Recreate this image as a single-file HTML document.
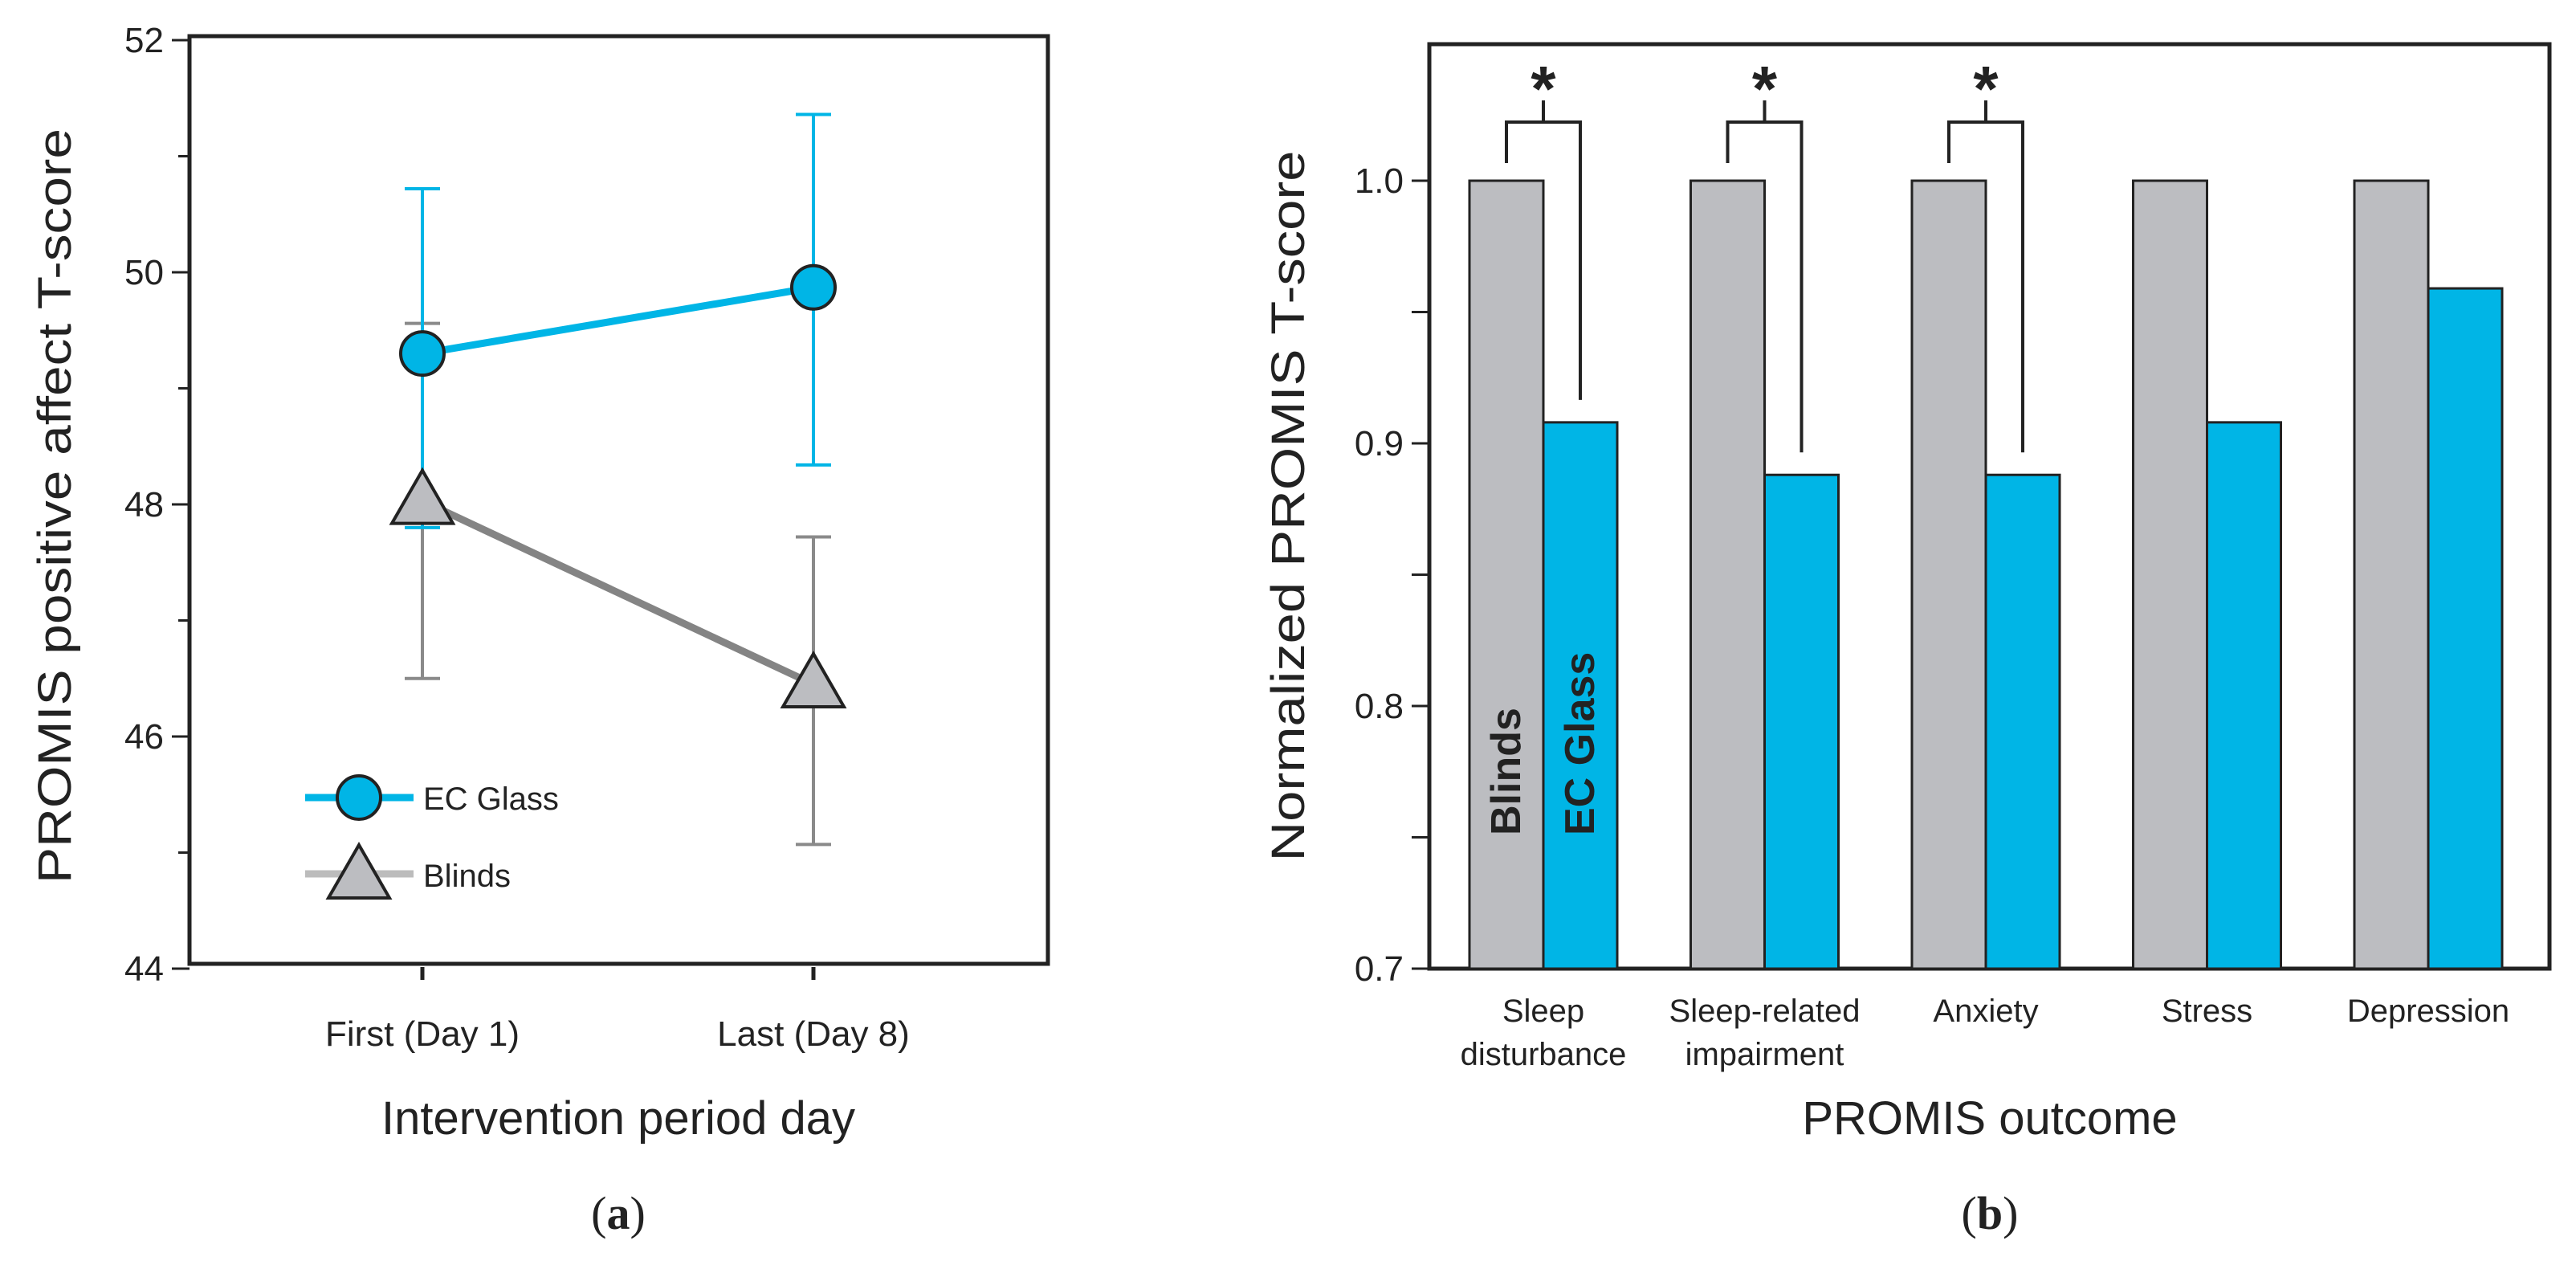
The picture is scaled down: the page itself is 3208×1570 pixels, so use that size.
<!DOCTYPE html>
<html><head><meta charset="utf-8">
<style>
html,body{margin:0;padding:0;background:#fff;}
svg{display:block;font-family:"Liberation Sans",Arial,sans-serif;}
</style></head>
<body>
<svg id="fig" width="3208" height="1570" viewBox="0 0 3208 1570" xmlns="http://www.w3.org/2000/svg">
<g id="panelA"></g>
<g id="panelB"></g>
</svg>
<script>
// ---- Panel A data ----
const daysA = ["First (Day 1)", "Last (Day 8)"];
const ecMean = [49.3, 49.87];
const ecHi = [50.72, 51.36];
const ecLo = [47.8, 48.34];
const blMean = [48.03, 46.45];
const blHi = [49.56, 47.72];
const blLo = [46.5, 45.07];
const yTicksA = [44, 46, 48, 50, 52];

// ---- Panel B data ----
const outcomes = [["Sleep","disturbance"],["Sleep-related","impairment"],["Anxiety"],["Stress"],["Depression"]];
const blindsVals = [1.0, 1.0, 1.0, 1.0, 1.0];
const ecVals = [0.908, 0.888, 0.888, 0.908, 0.959];
const significant = [true, true, true, false, false];
const yTicksB = ["0.7", "0.8", "0.9", "1.0"];

const NS = "http://www.w3.org/2000/svg";
function mk(parent, tag, attrs, text){
  const e = document.createElementNS(NS, tag);
  for (const k in attrs) e.setAttribute(k, attrs[k]);
  if (text !== undefined) e.textContent = text;
  parent.appendChild(e);
  return e;
}
const CYAN = "#00b5e6", GRAY = "#bcbdc1";

// ===== Panel A =====
(function(){
  const g = document.getElementById("panelA");
  const yA = v => 1206 - (v - 44) * (1156/8);
  const xA = i => 526 + i * 487;
  let e;
  e = mk(g, "rect", {x:236, y:45, width:1069, height:1155, fill:"none", stroke:"#222", "stroke-width":5});
  
  
  // y ticks
  for (let v = 44; v <= 52; v++) {
    const major = (v % 2 === 0);
    e = mk(g, "line", {x1: major ? 214 : 222, x2:236, y1:yA(v), y2:yA(v), stroke:"#222", "stroke-width":3});
    
    
  }
  yTicksA.forEach(v => {
    e = mk(g, "text", {x:204, y:yA(v)+15, "font-size":44, "text-anchor":"end", fill:"#222"}, String(v));
    
    
  });
  daysA.forEach((d,i) => {
    e = mk(g, "line", {x1:xA(i), x2:xA(i), y1:1204, y2:1220, stroke:"#222", "stroke-width":5});
    
    
    e = mk(g, "text", {x:xA(i), y:1302, "font-size":44, "text-anchor":"middle", fill:"#222"}, d);
    
    
  });
  e = mk(g, "text", {x:0, y:0, "font-size":58, "text-anchor":"middle", fill:"#222", textLength:940, lengthAdjust:"spacingAndGlyphs", transform:"translate(88,630) rotate(-90)"}, "PROMIS positive affect T-score");
  
  
  e = mk(g, "text", {x:770, y:1412, "font-size":58, "text-anchor":"middle", fill:"#222"}, "Intervention period day");
  
  
  e = mk(g, "text", {x:770, y:1530, "font-size":58, "text-anchor":"middle", fill:"#222", "font-family":"Liberation Serif, serif"}, "(");
  
  
  const ts = e;
  const tb = mk(ts, "tspan", {"font-weight":"bold"}, "a"); mk(ts, "tspan", {}, ")");
  // error bars - blinds
  daysA.forEach((d,i) => {
    const x = xA(i);
    e = mk(g, "path", {d:`M${x},${yA(blLo[i])}V${yA(blHi[i])}M${x-22},${yA(blLo[i])}H${x+22}M${x-22},${yA(blHi[i])}H${x+22}`, stroke:"#8a8a8a", "stroke-width":4, fill:"none"});
    
    
  });
  daysA.forEach((d,i) => {
    const x = xA(i);
    e = mk(g, "path", {d:`M${x},${yA(ecLo[i])}V${yA(ecHi[i])}M${x-22},${yA(ecLo[i])}H${x+22}M${x-22},${yA(ecHi[i])}H${x+22}`, stroke:CYAN, "stroke-width":4, fill:"none"});
    
    
  });
  // lines
  e = mk(g, "polyline", {points: blMean.map((v,i)=>`${xA(i)},${yA(v)}`).join(" "), stroke:"#848484", "stroke-width":9, fill:"none"});
  
  
  e = mk(g, "polyline", {points: ecMean.map((v,i)=>`${xA(i)},${yA(v)}`).join(" "), stroke:CYAN, "stroke-width":9, fill:"none"});
  
  
  const tri = (cx, cy) => `${cx},${cy-38} ${cx+38},${cy+28} ${cx-38},${cy+28}`;
  blMean.forEach((v,i) => {
    e = mk(g, "polygon", {points: tri(xA(i), yA(v)), fill:GRAY, stroke:"#222", "stroke-width":4});
    
    
  });
  ecMean.forEach((v,i) => {
    e = mk(g, "circle", {cx:xA(i), cy:yA(v), r:27, fill:CYAN, stroke:"#222", "stroke-width":4});
    
    
  });
  // legend
  e = mk(g, "line", {x1:380, x2:515, y1:993, y2:993, stroke:CYAN, "stroke-width":9});
  
  
  e = mk(g, "circle", {cx:447, cy:993, r:27, fill:CYAN, stroke:"#222", "stroke-width":4});
  
  
  e = mk(g, "text", {x:527, y:1008, "font-size":40, fill:"#222"}, "EC Glass");
  
  
  e = mk(g, "line", {x1:380, x2:515, y1:1088, y2:1088, stroke:"#bcbcbc", "stroke-width":9});
  
  
  e = mk(g, "polygon", {points: tri(447, 1090), fill:GRAY, stroke:"#222", "stroke-width":4});
  
  
  e = mk(g, "text", {x:527, y:1104, "font-size":40, fill:"#222"}, "Blinds");
  
  
})();

// ===== Panel B =====
(function(){
  const g = document.getElementById("panelB");
  const yB = v => 1206 - (v - 0.7) * 3270;
  const gx = i => 1830 + i * 275.5; // left of gray bar
  const bw = 92;
  let e;
  e = mk(g, "rect", {x:1780, y:55, width:1395, height:1151, fill:"none", stroke:"#222", "stroke-width":5});
  
  
  for (let k = 0; k <= 6; k++) {
    const v = 0.7 + k * 0.05;
    e = mk(g, "line", {x1:1758, x2:1780, y1:yB(v), y2:yB(v), stroke:"#222", "stroke-width":3});
    
    
  }
  yTicksB.forEach(t => {
    e = mk(g, "text", {x:1748, y:yB(parseFloat(t))+15, "font-size":44, "text-anchor":"end", fill:"#222"}, t);
    
    
  });
  outcomes.forEach((lines,i) => {
    const x = gx(i);
    e = mk(g, "rect", {x:x, y:yB(blindsVals[i]), width:bw, height:yB(0.7)-yB(blindsVals[i]), fill:GRAY, stroke:"#222", "stroke-width":3});
    
    
    e = mk(g, "rect", {x:x+bw, y:yB(ecVals[i]), width:bw, height:yB(0.7)-yB(ecVals[i]), fill:CYAN, stroke:"#222", "stroke-width":3});
    
    
    lines.forEach((ln,j) => {
      e = mk(g, "text", {x:x+bw, y:1272+j*54, "font-size":40, "text-anchor":"middle", fill:"#222"}, ln);
      
      
    });
    if (significant[i]) {
      const l = x + bw/2, r = x + bw*1.5, c = x + bw;
      e = mk(g, "path", {d:`M${l},${yB(blindsVals[i])-22}V152H${r}V${yB(ecVals[i])-28}M${c},152V125`, stroke:"#222", "stroke-width":4, fill:"none"});
      
      
      e = mk(g, "text", {x:c, y:138, "font-size":80, "font-weight":"bold", "text-anchor":"middle", fill:"#222"}, "*");
      
      
    }
  });
  e = mk(g, "text", {x:0, y:0, "font-size":52, "font-weight":"bold", fill:"#222", transform:`translate(${gx(0)+bw/2+17},1040) rotate(-90)`}, "Blinds");
  
  
  e = mk(g, "text", {x:0, y:0, "font-size":52, "font-weight":"bold", fill:"#222", transform:`translate(${gx(0)+bw*1.5+17},1040) rotate(-90)`}, "EC Glass");
  
  
  e = mk(g, "text", {x:0, y:0, "font-size":58, "text-anchor":"middle", fill:"#222", textLength:885, lengthAdjust:"spacingAndGlyphs", transform:"translate(1624,630) rotate(-90)"}, "Normalized PROMIS T-score");
  
  
  e = mk(g, "text", {x:2478, y:1412, "font-size":58, "text-anchor":"middle", fill:"#222"}, "PROMIS outcome");
  
  
  e = mk(g, "text", {x:2478, y:1530, "font-size":58, "text-anchor":"middle", fill:"#222", "font-family":"Liberation Serif, serif"}, "(");
  
  
  const ts = e;
  mk(ts, "tspan", {"font-weight":"bold"}, "b"); mk(ts, "tspan", {}, ")");
})();
</script>
</body></html>
